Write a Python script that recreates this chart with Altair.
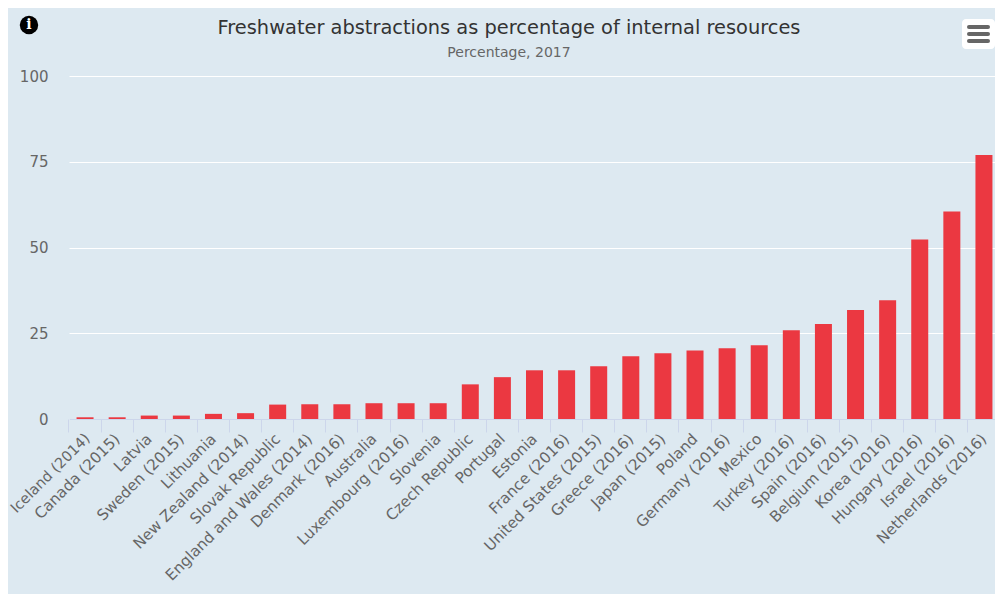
import altair as alt
import pandas as pd

countries = ["Iceland (2014)", "Canada (2015)", "Latvia", "Sweden (2015)", "Lithuania", "New Zealand (2014)",
             "Slovak Republic", "England and Wales (2014)", "Denmark (2016)", "Australia", "Luxembourg (2016)",
             "Slovenia", "Czech Republic", "Portugal", "Estonia", "France (2016)", "United States (2015)",
             "Greece (2016)", "Japan (2015)", "Poland", "Germany (2016)", "Mexico", "Turkey (2016)", "Spain (2016)",
             "Belgium (2015)", "Korea (2016)", "Hungary (2016)", "Israel (2016)", "Netherlands (2016)"]
values = [0.5, 0.5, 1.0, 1.0, 1.5, 1.7, 4.2, 4.3, 4.3, 4.6, 4.6, 4.6, 10.1, 12.2, 14.2, 14.2, 15.4, 18.3, 19.2,
          20.0, 20.6, 21.5, 25.9, 27.7, 31.8, 34.6, 52.3, 60.5, 77.0]
y_ticks = [0, 25, 50, 75, 100]
title_text = "Freshwater abstractions as percentage of internal resources"
subtitle_text = "Percentage, 2017"

BG = "#dde9f1"
RED = "#eb3841"
TICK = "#ccd6eb"
FONT = "DejaVu Sans"

df = pd.DataFrame({"country": countries, "value": values})
one = pd.DataFrame({"a": [1]})
x_scale = alt.Scale(domain=countries, range=[0, 931], paddingInner=0, paddingOuter=0)
y_scale = alt.Scale(domain=[0, 100], nice=False)

first_label = "datum.value == 'Iceland (2014)'"

bars = alt.Chart(df).mark_bar(color=RED, width=17).encode(
    x=alt.X("country:N", sort=countries, scale=x_scale, bandPosition=0.5,
            axis=alt.Axis(title=None, labelAngle=-45, labelAlign="right", labelBaseline="middle",
                          labelFont=FONT,
                          labelFontSize={"condition": {"test": first_label, "value": 14.5}, "value": 15.2},
                          labelOffset={"condition": {"test": first_label, "value": 3}, "value": 0},
                          labelColor="#666666", labelPadding=4,
                          labelOverlap=False, labelLimit=400, bandPosition=0,
                          tickColor=TICK, tickSize=13, tickWidth=1, domainColor=TICK, domainWidth=1, grid=False)),
    y=alt.Y("value:Q", scale=y_scale,
            axis=alt.Axis(title=None, values=y_ticks, labelFont=FONT, labelFontSize=15, labelColor="#666666",
                          labelPadding=21, gridColor="#ffffff", gridWidth=1, gridOpacity=1, domain=False, ticks=False)),
)

info_dot = alt.Chart(one).mark_point(filled=True, color="#000000", opacity=1, size=340).encode(
    x=alt.value(-40), y=alt.value(-51))
info_i = alt.Chart(one).mark_text(text="i", color="#ffffff", font="DejaVu Serif",
                                  fontWeight="bold", fontSize=14).encode(x=alt.value(-40), y=alt.value(-51))
button = alt.Chart(one).mark_rect(color="#ffffff", cornerRadius=4).encode(
    x=alt.value(893), x2=alt.value(926), y=alt.value(-57), y2=alt.value(-27))
burger = [
    alt.Chart(one).mark_rule(color="#666666", strokeWidth=4, strokeCap="round").encode(
        x=alt.value(900), x2=alt.value(919), y=alt.value(yy))
    for yy in (-49, -42, -35)
]
title_mark = alt.Chart(one).mark_text(text=title_text, font=FONT, fontSize=19.4, color="#333333").encode(
    x=alt.value(440), y=alt.value(-48))
subtitle_mark = alt.Chart(one).mark_text(text=subtitle_text, font=FONT, fontSize=14, color="#666666").encode(
    x=alt.value(440), y=alt.value(-23))

chart = alt.layer(bars, button, *burger, info_dot, info_i, title_mark, subtitle_mark).properties(
    width=926, height=343, background=BG,
    padding={"left": 61, "top": 68, "right": 0, "bottom": 175},
    autosize=alt.AutoSizeParams(type="none"),
).configure_view(stroke=None)

chart.save("out.html", embed_options={"renderer": "svg", "actions": False})
